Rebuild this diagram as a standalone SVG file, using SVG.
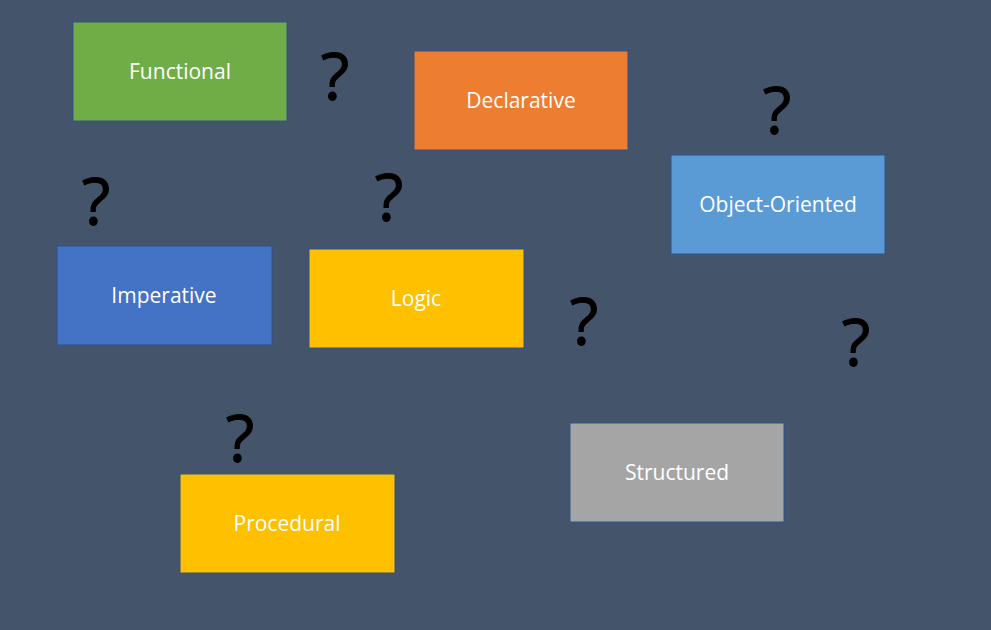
<svg xmlns="http://www.w3.org/2000/svg" width="991" height="630" viewBox="0 0 991 630">
<style>
.box{stroke:#2F528F;stroke-width:1}
.lbl{font-family:"Open Sans","Noto Sans",sans-serif;font-size:21px;fill:#FFFFFF;text-anchor:middle;dominant-baseline:central}
.q{font-family:"Open Sans","Noto Sans",sans-serif;font-size:66px;fill:#000000;stroke:#000000;stroke-width:1;text-anchor:middle}
</style>
<rect width="991" height="630" fill="#44546A"/>
<g id="functional"><rect class="box" x="73" y="22" width="214" height="99" fill="#70AD47"/><text class="lbl" x="180" y="71">Functional</text></g>
<g id="declarative"><rect class="box" x="414" y="51" width="214" height="99" fill="#ED7D31"/><text class="lbl" x="521" y="100">Declarative</text></g>
<g id="object-oriented"><rect class="box" x="671" y="155" width="214" height="99" fill="#5B9BD5"/><text class="lbl" x="778" y="204">Object-Oriented</text></g>
<g id="imperative"><rect class="box" x="57" y="246" width="215" height="99" fill="#4472C4"/><text class="lbl" x="164" y="295">Imperative</text></g>
<g id="logic"><rect class="box" x="309" y="249" width="215" height="99" fill="#FFC000"/><text class="lbl" x="416" y="298">Logic</text></g>
<g id="structured"><rect class="box" x="570" y="423" width="214" height="99" fill="#A5A5A5"/><text class="lbl" x="677" y="472">Structured</text></g>
<g id="procedural"><rect class="box" x="180" y="474" width="215" height="99" fill="#FFC000"/><text class="lbl" x="287" y="523">Procedural</text></g>
<g id="connectors"></g>
<g id="questions">
<text class="q" x="335" y="100">?</text>
<text class="q" x="777" y="134">?</text>
<text class="q" x="96" y="225">?</text>
<text class="q" x="389" y="221">?</text>
<text class="q" x="584" y="345">?</text>
<text class="q" x="856" y="366">?</text>
<text class="q" x="240" y="462">?</text>
</g>
</svg>
